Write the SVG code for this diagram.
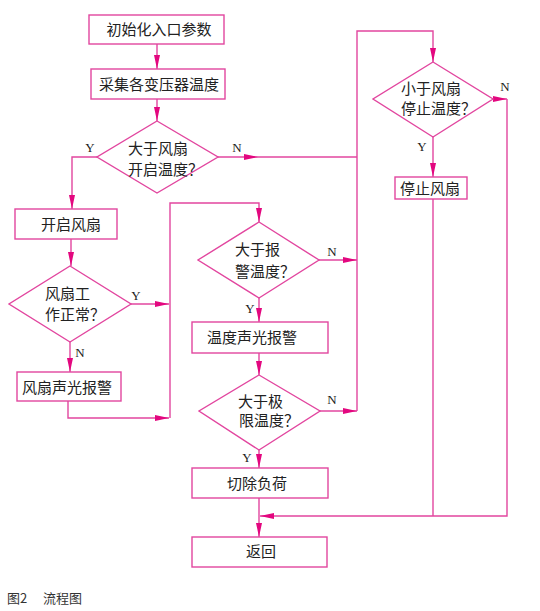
<svg xmlns="http://www.w3.org/2000/svg" width="540" height="611" viewBox="0 0 540 611">
<style>
.n{fill:#fff;stroke:#e2469f;stroke-width:1.4}
.c{fill:none;stroke:#e2469f;stroke-width:1.4}
.t{font-family:"Noto Sans CJK SC","Noto Sans CJK JP",sans-serif;font-size:15px;fill:#222}
.m{text-anchor:middle}
.l{font-family:"Liberation Serif",serif;font-size:13px;fill:#222;text-anchor:middle}
.cap{font-family:"Noto Sans CJK SC",sans-serif;font-size:13px;fill:#333}
</style>
<defs>
<marker id="a" markerUnits="userSpaceOnUse" markerWidth="14" markerHeight="7" viewBox="0 0 14 7" refX="14" refY="3.5" orient="auto">
<path d="M0,0.5 L14,3.5 L0,6.5 Z" fill="#e3077f"/>
</marker>
</defs>
<rect width="540" height="611" fill="#fff"/>
<g id="connectors">
<path class="c" d="M157,44 V69" marker-end="url(#a)"/>
<path class="c" d="M157,99 V121" marker-end="url(#a)"/>
<path class="c" d="M97,157 H72 V209" marker-end="url(#a)"/>
<path class="c" d="M218,157 H258" marker-end="url(#a)"/>
<path class="c" d="M258,157 H357"/>
<path class="c" d="M357,411 V31 H433 V62" marker-end="url(#a)"/>
<path class="c" d="M493,99 H507" marker-end="url(#a)"/>
<path class="c" d="M507,99 V516 H260" marker-end="url(#a)"/>
<path class="c" d="M433,137 V177" marker-end="url(#a)"/>
<path class="c" d="M433,199 V516"/>
<path class="c" d="M71,239 V266" marker-end="url(#a)"/>
<path class="c" d="M131,304 H169" marker-end="url(#a)"/>
<path class="c" d="M70,342 V372" marker-end="url(#a)"/>
<path class="c" d="M68,401 V418 H169" marker-end="url(#a)"/>
<path class="c" d="M170,418 V203 H259 V222" marker-end="url(#a)"/>
<path class="c" d="M319,260 H357" marker-end="url(#a)"/>
<path class="c" d="M259,298 V322" marker-end="url(#a)"/>
<path class="c" d="M259,353 V375" marker-end="url(#a)"/>
<path class="c" d="M320,411 H357" marker-end="url(#a)"/>
<path class="c" d="M259,450 V468" marker-end="url(#a)"/>
<path class="c" d="M259,498 V537" marker-end="url(#a)"/>
<text class="l" x="90" y="152">Y</text>
<text class="l" x="237" y="152">N</text>
<text class="l" x="505" y="91">N</text>
<text class="l" x="422" y="151">Y</text>
<text class="l" x="136" y="300">Y</text>
<text class="l" x="80" y="357">N</text>
<text class="l" x="332" y="256">N</text>
<text class="l" x="250" y="313">Y</text>
<text class="l" x="332" y="404">N</text>
<text class="l" x="247" y="462">Y</text>
</g>
<g id="init">
<rect class="n" x="89" y="15" width="135" height="29"/>
<text class="t m" x="159" y="35">初始化入口参数</text>
</g>
<g id="collect">
<rect class="n" x="91" y="69" width="134" height="30"/>
<text class="t m" x="159" y="90">采集各变压器温度</text>
</g>
<g id="d1">
<polygon class="n" points="157,121 218,157 157,193 97,157"/>
<text class="t" x="128" y="154">大于风扇</text>
<text class="t" x="128" y="175">开启温度？</text>
</g>
<g id="openfan">
<rect class="n" x="15" y="209" width="102" height="30"/>
<text class="t" x="41" y="230">开启风扇</text>
</g>
<g id="d2">
<polygon class="n" points="70,266 131,304 70,342 9,304"/>
<text class="t" x="45" y="299">风扇工</text>
<text class="t" x="45" y="320">作正常？</text>
</g>
<g id="fanalarm">
<rect class="n" x="17" y="372" width="104" height="29"/>
<text class="t" x="22" y="393">风扇声光报警</text>
</g>
<g id="d3">
<polygon class="n" points="259,222 319,260 259,298 198,260"/>
<text class="t" x="235" y="255">大于报</text>
<text class="t" x="235" y="277">警温度？</text>
</g>
<g id="tempalarm">
<rect class="n" x="192" y="322" width="136" height="31"/>
<text class="t" x="207" y="343">温度声光报警</text>
</g>
<g id="d5">
<polygon class="n" points="259,375 320,411 259,450 199,411"/>
<text class="t" x="238" y="407">大于极</text>
<text class="t" x="239" y="426">限温度？</text>
</g>
<g id="cutload">
<rect class="n" x="192" y="468" width="136" height="30"/>
<text class="t" x="227" y="489">切除负荷</text>
</g>
<g id="return">
<rect class="n" x="192" y="537" width="135" height="30"/>
<text class="t" x="246" y="557">返回</text>
</g>
<g id="d4">
<polygon class="n" points="433,62 493,99 433,137 373,99"/>
<text class="t" x="401" y="94">小于风扇</text>
<text class="t" x="401" y="114">停止温度？</text>
</g>
<g id="stopfan">
<rect class="n" x="395" y="177" width="72" height="22"/>
<text class="t" x="400" y="194">停止风扇</text>
</g>
<g id="caption">
<text class="cap" x="7" y="603">图2</text>
<text class="cap" x="43" y="603">流程图</text>
</g>
</svg>
